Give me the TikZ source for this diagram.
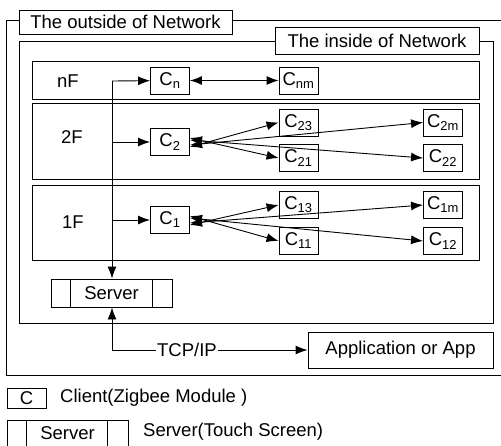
\documentclass[tikz,border=0pt]{standalone}
\usepackage{fontspec}
\setmainfont{Liberation Sans}
\usetikzlibrary{arrows.meta}
\begin{document}
\begin{tikzpicture}[x=1pt,y=-1pt,
  every node/.style={font=\fontsize{18.5}{22}\selectfont, inner sep=0pt},
  frame/.style={draw, line width=0.9pt},
  lbl/.style={draw, fill=white, line width=0.9pt, anchor=center},
  cbox/.style={draw, fill=white, line width=0.9pt, minimum width=39pt, minimum height=27pt},
  conn/.style={line width=0.9pt},
  arr/.style={conn, -{Latex[length=12pt,width=9pt]}},
  darr/.style={conn, {Latex[length=12pt,width=9pt]}-{Latex[length=12pt,width=9pt]}}]
\useasboundingbox (0,0) rectangle (501,445);
% outer frame
\draw[frame] (501,20) -- (6,20) -- (6,375) -- (501,375);
\node[lbl, minimum width=213pt, minimum height=24pt] (outl) at (125.5,22) {The outside of Network};
% inner frame
\draw[frame] (19,41) rectangle (493,323);
\node[lbl, minimum width=204pt, minimum height=27pt] (inl) at (377,40.5) {The inside of Network};
% rows
\draw[frame] (32,61) rectangle (479,99);
\draw[frame] (32,103) rectangle (479,179);
\draw[frame] (32,185) rectangle (479,260);
\node (rn) at (68,81) {nF};
\node (r2) at (72,137) {2F};
\node (r1) at (73,222) {1F};
% clients
\node[cbox] (Cn) at (170,80.5) {C\textsubscript{n}};
\node[cbox] (Cnm) at (298.5,80.5) {C\textsubscript{nm}};
\node[cbox] (C2) at (170,142) {C\textsubscript{2}};
\node[cbox] (C23) at (298.5,122.5) {C\textsubscript{23}};
\node[cbox] (C21) at (298.5,158) {C\textsubscript{21}};
\node[cbox] (C2m) at (443,122.5) {C\textsubscript{2m}};
\node[cbox] (C22) at (443,158) {C\textsubscript{22}};
\node[cbox] (C1) at (170,220) {C\textsubscript{1}};
\node[cbox] (C13) at (298.5,205) {C\textsubscript{13}};
\node[cbox] (C11) at (298.5,241) {C\textsubscript{11}};
\node[cbox] (C1m) at (443,205) {C\textsubscript{1m}};
\node[cbox] (C12) at (443,241) {C\textsubscript{12}};
% server
\node[draw, fill=white, line width=0.9pt, minimum width=121pt, minimum height=28pt] (srv) at (111.5,293) {Server};
\draw[conn] (70,279) -- (70,307) (152,279) -- (152,307);
% connectors
\coordinate (top) at (112,81);
\draw[arr] (top) -- (Cn);
\draw[arr] (top) -- (srv.north -| top);
\draw[arr] (112,142) -- (C2);
\draw[arr] (112,220) -- (C1);
\draw[darr] (Cn) -- (Cnm);
\draw[darr] ([yshift=-5pt]C2.east) -- (C23.west);
\draw[darr] ([yshift=-3pt]C2.east) -- (C2m.west);
\draw[darr] ([yshift=4pt]C2.east) -- (C21.west);
\draw[darr] ([yshift=2pt]C2.east) -- (C22.west);
\draw[darr] ([yshift=-5pt]C1.east) -- (C13.west);
\draw[darr] ([yshift=-3pt]C1.east) -- (C1m.west);
\draw[darr] ([yshift=4pt]C1.east) -- (C11.west);
\draw[darr] ([yshift=2pt]C1.east) -- (C12.west);
% TCP/IP
\node[draw, line width=0.9pt, minimum width=185pt, minimum height=36pt] (app) at (400.5,350) {Application or App};
\node[fill=white, inner sep=1pt] (tcp) at (187,350) {TCP/IP};
\coordinate (bend) at (112,350);
\draw[arr] (tcp.west) -- (bend) -- (srv.south -| bend);
\draw[arr] (tcp.east) -- (app.west);
% legend
\node[draw, line width=0.9pt, minimum width=39pt, minimum height=20pt] (lc) at (26.5,398) {C};
\node[anchor=west] (lct) at (60,398) {Client(Zigbee Module )};
\node[draw, line width=0.9pt, minimum width=121pt, minimum height=27pt] (ls) at (67.5,433.5) {Server};
\draw[conn] (26,420) -- (26,447) (107,420) -- (107,447);
\node[anchor=west] (lst) at (143,432) {Server(Touch Screen)};
\end{tikzpicture}
\end{document}
